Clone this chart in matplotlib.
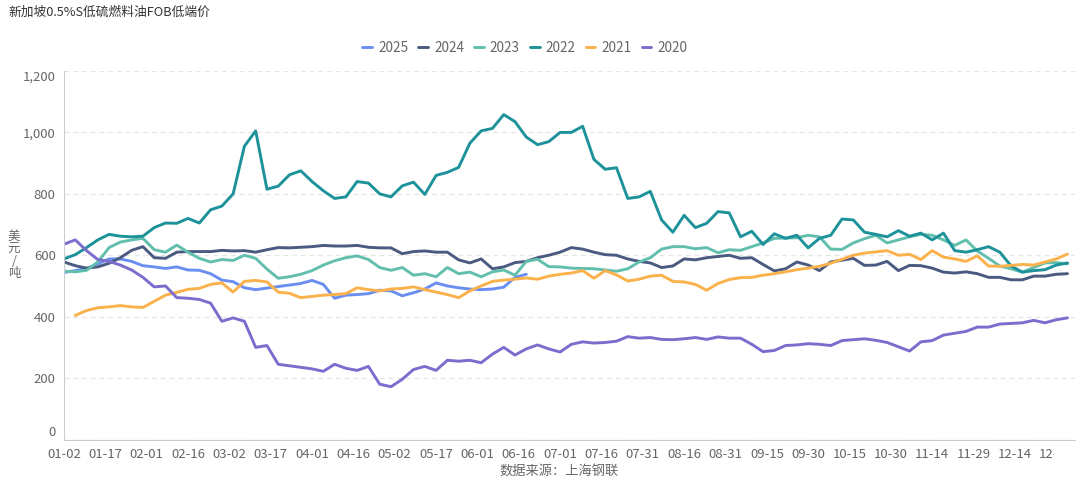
import matplotlib
matplotlib.use("Agg")
import matplotlib.pyplot as plt
from matplotlib.ticker import FuncFormatter
from matplotlib.transforms import Bbox, TransformedBbox
import numpy as np

plt.rcParams["font.family"] = ["Noto Sans CJK SC", "DejaVu Sans"]

# values, one point every 3 trading-day categories
STEP = 3
N_CATEGORIES = 269

tick_labels = ["01-02", "01-17", "02-01", "02-16", "03-02", "03-17", "04-01",
               "04-16", "05-02", "05-17", "06-01", "06-16", "07-01", "07-16",
               "07-31", "08-16", "08-31", "09-15", "09-30", "10-15", "10-30",
               "11-14", "11-29", "12-14", "12-29"]
TICK_EVERY = 11

years = ["2025", "2024", "2023", "2022", "2021", "2020"]
colors = ["#6b8ef2", "#4a5a80", "#62bfae", "#1e929a", "#fbb14c", "#7a6dcd"]

# index of the first sampled point for each series (in samples of STEP)
start_idx = {"2025": 0, "2024": 0, "2023": 0, "2022": 0, "2021": 1, "2020": 0}

y2025 = [544, 550, 557, 572, 588, 588, 580, 566, 562, 557, 562, 552, 551, 540,
         519, 514, 494, 488, 493, 498, 503, 508, 518, 505, 460, 470, 472, 475,
         486, 484, 468, 478, 490, 510, 500, 494, 490, 488, 490, 496, 528, 538]

y2024 = [578, 566, 558, 562, 574, 592, 616, 628, 592, 590, 610, 612, 612, 612,
         616, 614, 615, 610, 618, 625, 624, 626, 628, 632, 630, 630, 632, 626,
         624, 624, 605, 612, 614, 610, 610, 585, 575, 588, 556, 562, 576, 580,
         592, 600, 610, 625, 620, 610, 602, 600, 588, 580, 575, 560, 565, 588,
         585, 592, 596, 600, 590, 592, 570, 549, 556, 578, 568, 550, 578, 584,
         590, 567, 568, 580, 550, 567, 566, 558, 545, 542, 546, 540, 528, 528,
         520, 520, 532, 532, 538, 540]

y2023 = [548, 546, 551, 578, 625, 643, 650, 655, 618, 610, 633, 610, 590, 578,
         586, 583, 600, 590, 555, 525, 530, 538, 550, 568, 582, 592, 598, 586,
         560, 551, 560, 535, 540, 530, 560, 540, 545, 530, 546, 552, 535, 580,
         587, 563, 562, 558, 557, 556, 552, 548, 556, 578, 592, 620, 628, 628,
         621, 625, 608, 618, 616, 628, 640, 655, 656, 657, 665, 660, 620, 619,
         640, 654, 665, 640, 650, 660, 668, 665, 650, 632, 650, 614, 590, 565,
         556, 545, 560, 575, 576, 572]

y2022 = [588, 602, 625, 650, 668, 662, 660, 662, 690, 705, 704, 720, 705, 748,
         760, 800, 955, 1005, 815, 825, 862, 875, 840, 810, 785, 790, 840, 835,
         800, 790, 826, 838, 798, 860, 870, 886, 965, 1005, 1013, 1058, 1035,
         985, 960, 970, 1000, 1000, 1020, 912, 880, 885, 785, 790, 808, 715, 675,
         730, 690, 704, 742, 738, 660, 678, 635, 670, 655, 665, 624, 655, 665,
         718, 715, 675, 668, 660, 680, 662, 672, 650, 672, 615, 610, 618, 628,
         610, 565, 545, 550, 553, 568, 575]

y2021 = [404, 420, 429, 432, 436, 432, 430, 450, 470, 479, 489, 492, 505, 510,
         480, 515, 518, 513, 480, 476, 462, 466, 470, 472, 475, 494, 488, 484,
         490, 492, 497, 488, 480, 472, 462, 484, 500, 515, 519, 522, 526, 522,
         532, 538, 542, 550, 525, 550, 536, 516, 522, 532, 535, 515, 513, 505,
         486, 508, 521, 527, 528, 535, 540, 546, 553, 558, 564, 574, 587, 600,
         607, 611, 615, 600, 603, 586, 615, 594, 588, 580, 598, 565, 564, 567,
         570, 568, 578, 588, 604]

y2020 = [636, 650, 615, 586, 580, 568, 552, 528, 497, 500, 462, 460, 456, 444,
         385, 396, 385, 300, 306, 245, 240, 235, 230, 222, 245, 232, 225, 238,
         180, 172, 196, 228, 238, 225, 258, 255, 258, 250, 278, 300, 275, 295,
         308, 295, 285, 310, 318, 314, 316, 320, 335, 330, 332, 326, 325, 328,
         332, 326, 334, 330, 330, 310, 286, 290, 306, 308, 312, 310, 306, 322,
         325, 328, 323, 316, 302, 288, 318, 322, 340, 346, 352, 366, 366, 376,
         378, 380, 388, 380, 390, 396]

series = {"2025": y2025, "2024": y2024, "2023": y2023,
          "2022": y2022, "2021": y2021, "2020": y2020}

GRID = "#e6e6e6"
AXIS = "#cccccc"
TEXT = "#666666"


def main():
    fig = plt.figure(figsize=(10.8, 4.92), dpi=100)
    ax = fig.add_axes([64 / 1080, 1 - 439.5 / 492, 1011 / 1080, 368.5 / 492])

    for year, color in zip(years, colors):
        vals = np.array(series[year], dtype=float)
        x = (np.arange(len(vals)) + start_idx[year]) * STEP
        ax.plot(x, vals, color=color, linewidth=2.1, label=year,
                solid_joinstyle="round", solid_capstyle="round")

    ax.set_xlim(0, N_CATEGORIES)
    ax.set_ylim(0, 1200)

    ax.set_xticks(np.arange(len(tick_labels)) * TICK_EVERY)
    ax.set_xticklabels(tick_labels)
    ax.set_yticks(np.arange(0, 1201, 200))
    ax.yaxis.set_major_formatter(FuncFormatter(lambda v, p: f"{int(v):,}"))
    ax.tick_params(axis="both", length=0, labelsize=9.5, colors=TEXT)
    ax.tick_params(axis="x", pad=6)
    ax.tick_params(axis="y", pad=6)

    # echarts-like alignment of the end labels on the y axis
    ylabels = ax.get_yticklabels()
    ylabels[0].set_verticalalignment("bottom")
    ylabels[-1].set_verticalalignment("top")

    # the last date label is cut off at the right edge in the original
    clip = TransformedBbox(Bbox([[0, 0], [1054 / 1080, 1]]), fig.transFigure)
    last = ax.get_xticklabels()[-1]
    last.set_clip_box(clip)
    last.set_clip_on(True)

    ax.grid(axis="y", color=GRID, linestyle=(0, (4, 3)), linewidth=0.9)
    ax.set_axisbelow(True)
    for side in ["top", "right"]:
        ax.spines[side].set_visible(False)
    ax.spines["left"].set_color(AXIS)
    ax.spines["bottom"].set_color(AXIS)

    fig.text(8 / 1080, 1 - 12 / 492, "新加坡0.5%S低硫燃料油FOB低端价",
             fontsize=9.2, color="#333333", ha="left", va="center")
    fig.text(14 / 1080, 1 - 255 / 492, "美\n元\n/\n吨", fontsize=9,
             color=TEXT, ha="center", va="center", linespacing=0.92,
             multialignment="center")
    fig.text(559 / 1080, 1 - 472 / 492, "数据来源：上海钢联", fontsize=9.5,
             color=TEXT, ha="center", va="center")

    fig.legend(loc="center", bbox_to_anchor=(525 / 1080, 1 - 48 / 492),
               ncol=6, frameon=False, fontsize=9.8, handlelength=0.7,
               handletextpad=0.45, columnspacing=0.75, labelcolor=TEXT)

    fig.savefig("out.png", dpi=100)
    plt.close(fig)


if __name__ == "__main__":
    main()
